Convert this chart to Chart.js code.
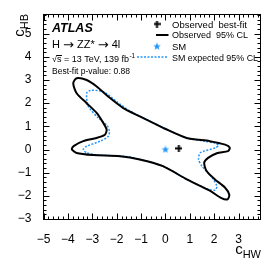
<!DOCTYPE html>
<html>
<head>
<title>cHW vs cHB</title>
<script src="https://cdn.jsdelivr.net/npm/chart.js"></script>
<style>
    html, body { margin: 0; padding: 0; background: #fff; }
    #wrap { width: 274px; height: 263px; }
</style>
</head>
<body>
<div id="wrap"><canvas id="chart" width="274" height="263"></canvas></div>
<script>
    // axis ticks
    const hwTicks = [-5, -4, -3, -2, -1, 0, 1, 2, 3];
    const hbTicks = [-3, -2, -1, 0, 1, 2, 3, 4, 5];

    // observed 95% CL contour
    const obsHW = [-0.09, 0.87, 1.82, 2.45, 2.64, 2.57, 2.11, 1.75, 1.59, 1.69, 2.03, 2.44, 2.62, 2.55, 2.30, 1.84, 0.88, -0.10, -1.05, -1.86, -2.96, -3.64, -3.84, -3.75, -3.37, -2.82, -2.48, -2.41, -2.55, -2.82, -3.23, -3.64, -3.78, -3.64, -3.23, -2.82, -2.27, -1.73, -1.05, -0.09];
    const obsHB = [0.93, 0.50, 0.36, 0.21, 0.08, -0.07, -0.16, -0.36, -0.57, -0.93, -1.29, -1.64, -1.95, -2.15, -2.10, -1.79, -1.29, -0.72, -0.43, -0.29, -0.24, -0.15, 0.02, 0.16, 0.36, 0.50, 0.64, 0.86, 1.15, 1.58, 2.00, 2.43, 2.86, 3.08, 3.00, 2.72, 2.22, 1.79, 1.43, 0.93];

    // SM expected 95% CL contour
    const expHW = [-0.09, 0.87, 1.60, 2.05, 2.18, 2.04, 1.43, 1.36, 1.50, 1.91, 2.11, 2.04, 1.77, 1.29, 0.88, -0.10, -1.05, -1.52, -2.82, -3.23, -3.37, -3.23, -2.68, -2.34, -2.30, -2.40, -2.75, -3.16, -3.23, -3.09, -2.55, -2.00, -1.45, -0.09];
    const expHB = [0.93, 0.50, 0.36, 0.27, 0.18, 0.07, -0.14, -0.43, -0.72, -1.21, -1.58, -1.75, -1.72, -1.50, -1.29, -0.72, -0.43, -0.31, -0.23, -0.14, -0.01, 0.14, 0.36, 0.57, 0.80, 1.05, 1.36, 1.86, 2.43, 2.55, 2.50, 2.07, 1.66, 0.93];

    const bestFitHW = [0.55];
    const bestFitHB = [0.05];
    const smHW = [0];
    const smHB = [0];

    const BLUE = 'rgb(35,150,250)';
    const FONT = '"Liberation Sans", Arial, Helvetica, sans-serif';
    const ARROW_FONT = '"DejaVu Sans", sans-serif';

    function pts(xs, ys) {
        return xs.map((v, i) => ({ x: v, y: ys[i] }));
    }

    function makeStar(r, color) {
        const c = document.createElement('canvas');
        c.width = c.height = 2 * r + 2;
        const g = c.getContext('2d');
        g.fillStyle = color;
        g.beginPath();
        for (let i = 0; i < 10; i++) {
            const ang = -Math.PI / 2 + i * Math.PI / 5;
            const rr = i % 2 ? r * 0.42 : r;
            g.lineTo(r + 1 + rr * Math.cos(ang), r + 1 + rr * Math.sin(ang));
        }
        g.closePath();
        g.fill();
        return c;
    }

    function makePlus(r, t, color) {
        const s = 2 * r + 1;
        const c = document.createElement('canvas');
        c.width = c.height = s;
        const g = c.getContext('2d');
        g.fillStyle = color;
        g.fillRect(0, r + 0.5 - t / 2, s, t);
        g.fillRect(r + 0.5 - t / 2, 0, t, s);
        return c;
    }

    const starImg = makeStar(4, BLUE);
    const plusImg = makePlus(3, 2, '#000');

    function minus(v) {
        return String(v).replace('-', '\u2212');
    }

    // draws a run of [text, font] pieces one after another
    function runText(ctx, parts, x, y) {
        parts.forEach(([t, f, dy]) => {
            ctx.font = f;
            ctx.fillText(t, x, y + (dy || 0));
            x += ctx.measureText(t).width;
        });
        return x;
    }

    // frame, inward ticks, labels, legend
    const atlasDecor = {
        id: 'atlasDecor',
        afterDraw(chart) {
            const { ctx, scales: { x, y } } = chart;
            ctx.save();
            ctx.strokeStyle = '#000';
            ctx.lineWidth = 1;
            const L = 43.5, R = 260.5, T = 14.5, B = 219.5;
            ctx.strokeRect(L, T, R - L, B - T);

            ctx.beginPath();
            for (let v = x.min; v <= x.max + 1e-6; v += 0.2) {
                const px = Math.round(x.getPixelForValue(v)) + 0.5;
                const major = Math.abs(v - Math.round(v)) < 1e-6;
                const len = major ? 6 : 3;
                ctx.moveTo(px, B); ctx.lineTo(px, B - len);
                ctx.moveTo(px, T); ctx.lineTo(px, T + len);
            }
            for (let v = y.min; v <= y.max + 1e-6; v += 0.2) {
                const py = Math.round(y.getPixelForValue(v)) + 0.5;
                const major = Math.abs(v - Math.round(v)) < 1e-6;
                const len = major ? 6 : 3;
                ctx.moveTo(L, py); ctx.lineTo(L + len, py);
                ctx.moveTo(R, py); ctx.lineTo(R - len, py);
            }
            ctx.stroke();

            // ATLAS label block
            ctx.fillStyle = '#000';
            ctx.textBaseline = 'alphabetic';
            ctx.textAlign = 'left';
            ctx.font = 'italic bold 12.5px ' + FONT;
            ctx.fillText('ATLAS', 52, 32);
            const f11 = '11px ' + FONT;
            const fa = '13px ' + ARROW_FONT;
            runText(ctx, [['H ', f11], ['\u2192', fa, 0.5], [' ZZ* ', f11], ['\u2192', fa, 0.5], [' 4l', f11]], 52, 48);
            ctx.font = '9px ' + FONT;
            ctx.fillText('\u221As = 13 TeV, 139 fb', 52, 62);
            const w = ctx.measureText('\u221As = 13 TeV, 139 fb').width;
            const ws = ctx.measureText('\u221A').width;
            const wss = ctx.measureText('s').width;
            ctx.beginPath();
            ctx.moveTo(52 + ws - 0.5, 55.5); ctx.lineTo(52 + ws + wss + 0.5, 55.5);
            ctx.stroke();
            ctx.font = '6.5px ' + FONT;
            ctx.fillText('-1', 52 + w + 0.5, 58);
            ctx.font = '8.5px ' + FONT;
            ctx.fillText('Best-fit p-value: 0.88', 52, 74);

            // legend
            ctx.font = '9.5px ' + FONT;
            ctx.drawImage(plusImg, 153.5, 20.5);
            ctx.fillText('Observed  best-fit', 172, 27.5);
            ctx.beginPath();
            ctx.lineWidth = 2;
            ctx.moveTo(156, 35); ctx.lineTo(168.5, 35);
            ctx.stroke();
            ctx.fillText('Observed  95% CL', 172, 38, 76);
            ctx.drawImage(starImg, 152, 41.5);
            ctx.fillText('SM', 172, 49.5);
            ctx.beginPath();
            ctx.lineWidth = 1.5;
            ctx.strokeStyle = BLUE;
            ctx.setLineDash([2, 1.5]);
            ctx.moveTo(137, 57); ctx.lineTo(168.5, 57);
            ctx.stroke();
            ctx.setLineDash([]);
            ctx.fillText('SM expected 95% CL', 172, 60.5, 86);

            // axis titles
            ctx.fillStyle = '#000';
            ctx.font = '15px ' + FONT;
            const cw = ctx.measureText('c').width;
            ctx.font = '11px ' + FONT;
            const hwW = ctx.measureText('HW').width;
            ctx.font = '15px ' + FONT;
            ctx.fillText('c', 261 - hwW - cw, 254);
            ctx.font = '11px ' + FONT;
            ctx.fillText('HW', 261 - hwW, 258);

            ctx.save();
            ctx.translate(24, 14);
            ctx.rotate(-Math.PI / 2);
            ctx.font = '11px ' + FONT;
            const hbW = ctx.measureText('HB').width;
            ctx.font = '15px ' + FONT;
            ctx.fillText('c', -hbW - cw, 0);
            ctx.font = '11px ' + FONT;
            ctx.fillText('HB', -hbW, 4);
            ctx.restore();

            ctx.restore();
        }
    };

    new Chart(document.getElementById('chart').getContext('2d'), {
        type: 'scatter',
        data: {
            datasets: [
                {
                    label: 'Observed 95% CL',
                    data: pts(obsHW, obsHB),
                    showLine: true,
                    borderColor: '#000',
                    borderWidth: 2,
                    pointRadius: 0,
                    tension: 0.25,
                    fill: false
                },
                {
                    label: 'SM expected 95% CL',
                    data: pts(expHW, expHB),
                    showLine: true,
                    borderColor: BLUE,
                    borderWidth: 1.5,
                    borderDash: [2, 1.5],
                    pointRadius: 0,
                    tension: 0.25,
                    fill: false
                },
                {
                    label: 'Observed best-fit',
                    data: pts(bestFitHW, bestFitHB),
                    pointStyle: plusImg,
                    pointRadius: 4
                },
                {
                    label: 'SM',
                    data: pts(smHW, smHB),
                    pointStyle: starImg,
                    pointRadius: 4
                }
            ]
        },
        options: {
            responsive: false,
            animation: false,
            devicePixelRatio: 1,
            events: [],
            layout: { padding: { top: 14, right: 13.5, left: 0, bottom: 0 } },
            plugins: {
                legend: { display: false },
                tooltip: { enabled: false }
            },
            scales: {
                x: {
                    type: 'linear',
                    min: -5,
                    max: 3.9,
                    afterFit: s => { s.height = 44; },
                    afterBuildTicks: s => { s.ticks = hwTicks.map(v => ({ value: v })); },
                    grid: { display: false },
                    border: { display: false },
                    ticks: {
                        autoSkip: false,
                        maxRotation: 0,
                        padding: 5,
                        color: '#000',
                        font: { family: FONT, size: 12 },
                        callback: v => minus(v)
                    }
                },
                y: {
                    type: 'linear',
                    min: -3,
                    max: 5.85,
                    afterFit: s => { s.width = 43.5; },
                    afterBuildTicks: s => { s.ticks = hbTicks.map(v => ({ value: v })); },
                    grid: { display: false },
                    border: { display: false },
                    ticks: {
                        autoSkip: false,
                        padding: 4,
                        color: '#000',
                        font: { family: FONT, size: 12 },
                        callback: v => minus(v)
                    }
                }
            }
        },
        plugins: [atlasDecor]
    });
</script>
</body>
</html>
